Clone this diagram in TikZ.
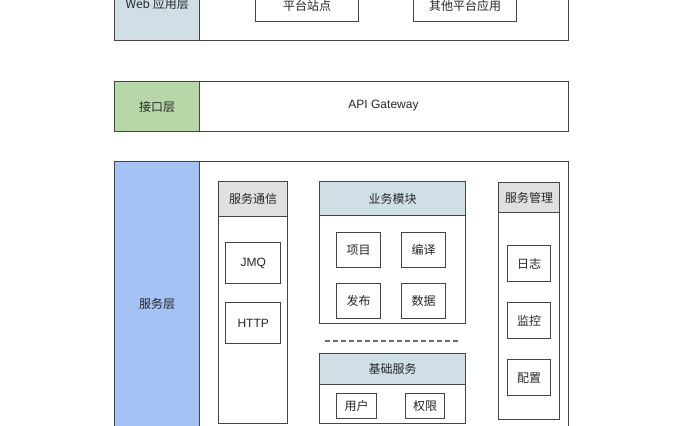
\documentclass[tikz,border=0pt]{standalone}
\usepackage{fontspec}
\setmainfont{Liberation Sans}
\newfontfamily\cjk{Noto Sans CJK SC}
\usetikzlibrary{positioning}

\definecolor{edge}{HTML}{444444}
\definecolor{ink}{HTML}{262626}
\definecolor{webtag}{HTML}{D0DFE6}
\definecolor{apitag}{HTML}{B7D7A8}
\definecolor{svctag}{HTML}{A4C2F4}
\definecolor{greyhd}{HTML}{E0E0E0}
\definecolor{bluehd}{HTML}{D0DFE6}

\begin{document}
\begin{tikzpicture}[
        x=0.75pt, y=-0.75pt,
        frame/.style = {
                draw=edge,
                line width=1pt,
                inner sep=0pt,
                anchor=north west,
                text=ink,
                font=\cjk\small,
            },
        layer/.style = {
                frame,
                fill=white,
                minimum width=340.5pt,
            },
        tag/.style = {
                frame,
                minimum width=63.75pt,
            },
        cell/.style = {
                frame,
                fill=white,
            },
    ]
    \useasboundingbox (0,0) rectangle (680,425);
    \clip (0,0) rectangle (680,425);

    % Web layer
    \node[layer, minimum height=55.5pt] (web) at (114,-34) {};
    \node[tag, fill=webtag, minimum height=55.5pt] (webtag) at (114,-34) {Web 应用层};
    \node[cell, minimum width=77.25pt, minimum height=24pt] (site) at (255,-11) {平台站点};
    \node[cell, minimum width=77.25pt, minimum height=24pt] (other) at (413,-11) {其他平台应用};

    % interface layer
    \node[layer, minimum height=37.5pt] (api) at (114,81) {};
    \node[tag, fill=apitag, minimum height=37.5pt] (apitag) at (114,81) {接口层};
    \node[text=ink, font=\small] (gateway) at (383.5,106) {API Gateway};

    % service layer
    \node[layer, minimum height=213pt] (svc) at (114,161) {};
    \node[tag, fill=svctag, minimum height=213pt] (svctag) at (114,161) {服务层};

    % service communication
    \node[cell, minimum width=51.75pt, minimum height=181.5pt] (comm) at (218,181) {};
    \node[frame, fill=greyhd, minimum width=51.75pt, minimum height=26.25pt] (commhd) at (comm.north west) {服务通信};
    \node[cell, minimum width=41.25pt, minimum height=30.75pt, font=\small] (jmq) at (225,242) {JMQ};
    \node[cell, minimum width=41.25pt, minimum height=30.75pt, font=\small] (http) at (225,302) {HTTP};

    % business modules
    \node[cell, minimum width=109.5pt, minimum height=106.5pt] (biz) at (319,181) {};
    \node[frame, fill=bluehd, minimum width=109.5pt, minimum height=25.5pt] (bizhd) at (biz.north west) {业务模块};
    \node[cell, minimum width=33pt, minimum height=26.25pt] (proj) at (336,232) {项目};
    \node[cell, minimum width=33pt, minimum height=26.25pt] (build) at (401,232) {编译};
    \node[cell, minimum width=33pt, minimum height=26.25pt] (pub) at (336,283) {发布};
    \node[cell, minimum width=33pt, minimum height=26.25pt] (data) at (401,283) {数据};

    \coordinate (sepl) at (325,341);
    \coordinate (sepr) at (459,341);
    \draw[edge!80, line width=0.8pt, dash pattern=on 3.5pt off 2.5pt] (sepl) -- (sepr);

    % basic services
    \node[cell, minimum width=109.5pt, minimum height=52.5pt] (base) at (319,353) {};
    \node[frame, fill=bluehd, minimum width=109.5pt, minimum height=23.25pt] (basehd) at (base.north west) {基础服务};
    \node[cell, minimum width=30pt, minimum height=18.75pt] (user) at (336,393) {用户};
    \node[cell, minimum width=29.25pt, minimum height=18.75pt] (perm) at (405,393) {权限};

    % service management
    \node[cell, minimum width=45.75pt, minimum height=177.75pt] (mgmt) at (498,182) {};
    \node[frame, fill=greyhd, minimum width=45.75pt, minimum height=22.5pt] (mgmthd) at (mgmt.north west) {服务管理};
    \node[cell, minimum width=32.25pt, minimum height=27pt] (log) at (507,245) {日志};
    \node[cell, minimum width=32.25pt, minimum height=27pt] (mon) at (507,302) {监控};
    \node[cell, minimum width=32.25pt, minimum height=27pt] (cfg) at (507,359) {配置};
\end{tikzpicture}
\end{document}
